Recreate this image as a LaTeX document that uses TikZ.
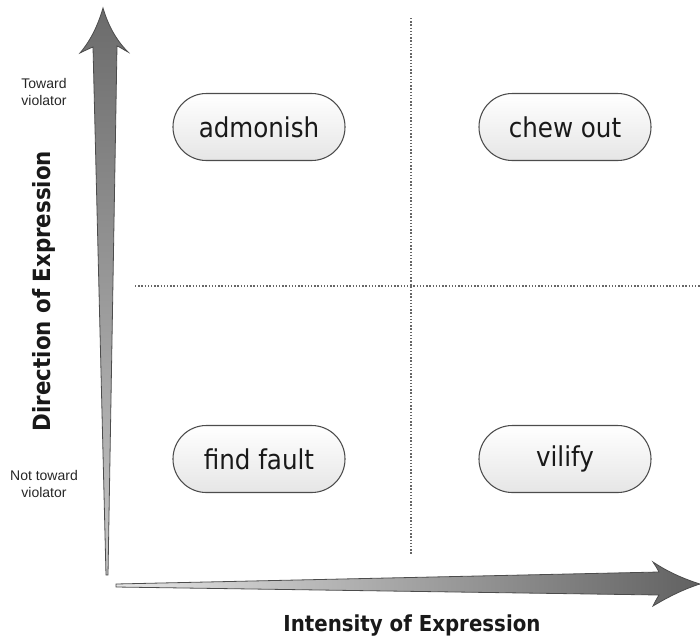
\documentclass[tikz,border=0pt]{standalone}
\usepackage{fontspec}
\setmainfont{Liberation Sans}
\newfontfamily\pillfont{DejaVuSansCondensed}[Extension=.ttf, BoldFont=DejaVuSansCondensed-Bold]
\begin{document}
\begin{tikzpicture}[x=0.75pt,y=-0.75pt,
  guide/.style={black!60, line width=0.8pt, dash pattern=on 1.1pt off 1.3pt},
  pill/.style={draw=black!70, line width=0.8pt, rounded corners=25pt,
    minimum width=129pt, minimum height=50.25pt,
    top color=white, bottom color=black!10,
    font=\pillfont\fontsize{20.5}{24}\selectfont, text=black!90},
  sidelabel/.style={align=center, font=\fontsize{10.5}{12.75}\selectfont, text=black!85},
  axislabel/.style={font=\pillfont\bfseries\fontsize{16.5}{20}\selectfont, text=black!90},
  axisarrow/.style={draw=black!70, line width=0.6pt}]
\useasboundingbox (0,0) rectangle (700,640);

% quadrant guides
\draw[guide] (411,18) -- (411,555);
\draw[guide] (135,286) -- (700,286);

% vertical axis arrow
\shadedraw[axisarrow, top color=black!58, bottom color=black!22]
  (106,575) -- (93,47)
  .. controls (88,49) and (84,51) .. (80,53)
  .. controls (91,40) and (98,25) .. (103,8)
  .. controls (108,25) and (116,40) .. (128,52)
  .. controls (124,50) and (120,47) .. (117,46)
  -- (108,575) -- cycle;

% horizontal axis arrow
\shadedraw[axisarrow, left color=black!10, right color=black!62]
  (116,584) -- (659,572)
  .. controls (657,568) and (655,565) .. (653,562)
  .. controls (668,572) and (684,579) .. (700,584)
  .. controls (684,589) and (668,597) .. (653,606)
  .. controls (655,602) and (657,598) .. (659,595)
  -- (116,587) -- cycle;

% axis labels
\node[sidelabel] (toward) at (44,92) {Toward\\violator};
\node[sidelabel] (nottoward) at (44,484) {Not toward\\violator};
\node[axislabel, rotate=90, font=\pillfont\bfseries\fontsize{17.8}{21}\selectfont] (ylab) at (44,291) {Direction of Expression};
\node[axislabel] (xlab) at (412,626) {Intensity of Expression};

% quadrants
\node[pill] (admonish) at (259,127) {admonish};
\node[pill] (chewout) at (565,127) {chew out};
\node[pill] (findfault) at (259,459) {find fault};
\node[pill] (vilify) at (565,459) {vilify};
\end{tikzpicture}
\end{document}
